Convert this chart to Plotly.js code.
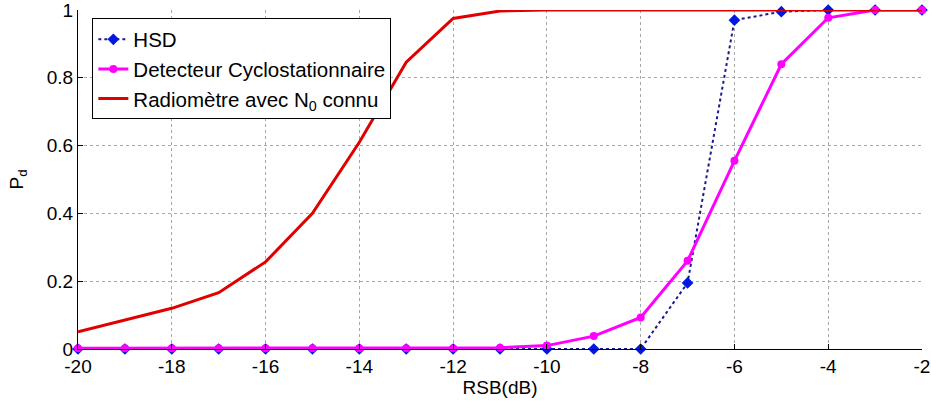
<!DOCTYPE html>
<html>
<head>
<meta charset="utf-8">
<script src="https://cdn.plot.ly/plotly-3.0.1.min.js"></script>
<style>html,body{margin:0;padding:0;background:#fff;}#chart{width:931px;height:406px;}</style>
</head>
<body>
<div id="chart"></div>
<script>
const rsb = [-20,-19,-18,-17,-16,-15,-14,-13,-12,-11,-10,-9,-8,-7,-6,-5,-4,-3,-2];
const hsd = [0,0,0,0,0,0,0,0,0,0,0,0,0,0.195,0.97,0.995,1.0,1.0,1.0];
const cyclo = [0.002,0.002,0.002,0.002,0.002,0.002,0.002,0.002,0.002,0.004,0.01,0.038,0.093,0.26,0.555,0.84,0.977,1.0,1.0];
const radio = [0.051,0.085,0.12,0.166,0.257,0.40,0.61,0.846,0.975,0.997,1,1,1,1,1,1,1,1,1];
const names = ["HSD","Detecteur Cyclostationnaire","Radiomètre avec N<sub>0</sub> connu"];
const xTickVals = [-20,-18,-16,-14,-12,-10,-8,-6,-4,-2];
const xTickText = ["-20","-18","-16","-14","-12","-10","-8","-6","-4","-2"];
const yTickVals = [0,0.2,0.4,0.6,0.8,1];
const yTickText = ["0","0.2","0.4","0.6","0.8","1"];

const font = "Liberation Sans, Arial, sans-serif";
const traces = [
  {x: rsb, y: hsd, name: names[0], mode: "lines+markers", cliponaxis: false,
   line: {color: "#1a1a90", width: 2, dash: "dot"},
   marker: {symbol: "diamond", color: "#0018e0", size: 9}},
  {x: rsb, y: cyclo, name: names[1], mode: "lines+markers", cliponaxis: false,
   line: {color: "#ff00ff", width: 3},
   marker: {symbol: "circle", color: "#ff00ff", size: 8}},
  {x: rsb, y: radio, name: names[2], mode: "lines", cliponaxis: false,
   line: {color: "#e00000", width: 3}}
];
const layout = {
  width: 931, height: 406,
  margin: {l: 78, r: 9, t: 10, b: 57},
  paper_bgcolor: "#fff", plot_bgcolor: "#fff",
  font: {family: font, size: 19, color: "#000"},
  showlegend: true,
  legend: {x: 0.017, y: 0.975, xanchor: "left", yanchor: "top",
    bordercolor: "#000", borderwidth: 1, bgcolor: "#fff",
    font: {family: font, size: 20.5, color: "#000"}, tracegroupgap: 0},
  xaxis: {range: [-20, -2], tickvals: xTickVals, ticktext: xTickText,
    ticks: "inside", ticklen: 5, tickcolor: "#000", ticklabeloverflow: "allow",
    showline: true, linecolor: "#000", linewidth: 1, mirror: false,
    showgrid: true, gridcolor: "#a8a8a8", griddash: "dot", gridwidth: 1,
    zeroline: false, automargin: false,
    title: {text: "RSB(dB)", standoff: 4, font: {family: font, size: 19}}},
  yaxis: {range: [0, 1], tickvals: yTickVals, ticktext: yTickText,
    ticks: "inside", ticklen: 5, tickcolor: "#000", ticklabeloverflow: "allow",
    showline: true, linecolor: "#000", linewidth: 1, mirror: false,
    showgrid: true, gridcolor: "#a8a8a8", griddash: "dot", gridwidth: 1,
    zeroline: false, automargin: false,
    title: {text: "P<sub>d</sub>", standoff: 18, font: {family: font, size: 19}}}
};
Plotly.newPlot("chart", traces, layout, {displayModeBar: false, staticPlot: true});
</script>
</body>
</html>
